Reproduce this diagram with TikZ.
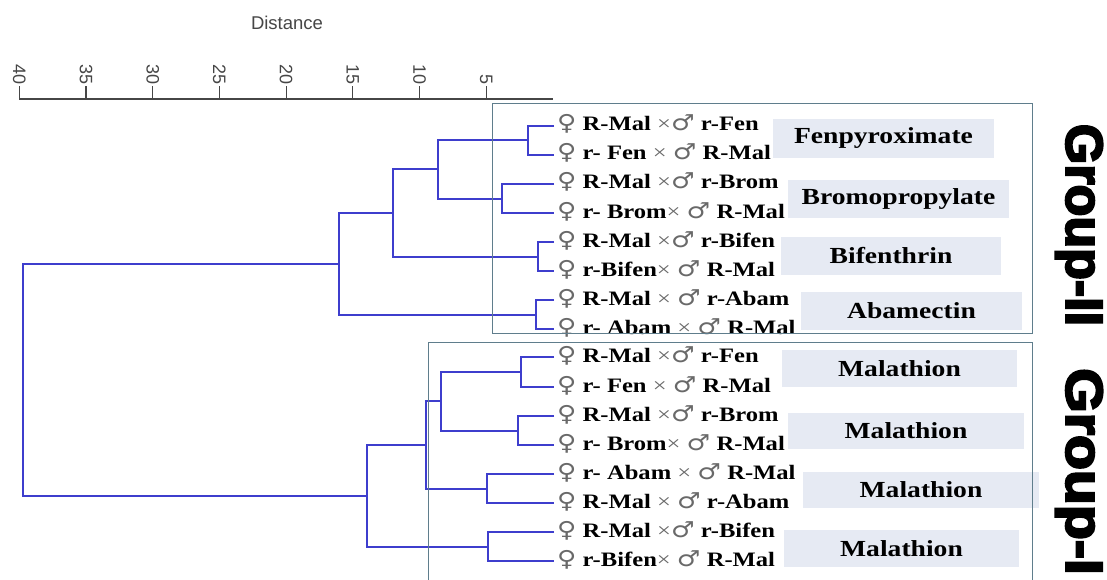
\documentclass[tikz,border=0pt]{standalone}
\usepackage{fontspec}
\usepackage{graphicx}
\usetikzlibrary{calc}
\setmainfont{Liberation Serif}
\newfontfamily\symfont{Liberation Serif}
\newfontfamily\gendfont{DejaVu Sans}
\newfontfamily\axfont{Liberation Sans}
\newfontfamily\grpfont[BoldFeatures={FakeBold=4}]{Liberation Sans}
\definecolor{dendro}{RGB}{62,62,205}
\definecolor{boxline}{RGB}{95,125,140}
\definecolor{labfill}{RGB}{230,234,243}
\definecolor{symgray}{RGB}{105,105,105}
\definecolor{axgray}{RGB}{70,70,70}
\newcommand{\fem}{{\fontsize{22}{24}\gendfont\mdseries\color{symgray}♀}}
\newcommand{\mal}{{\fontsize{22}{24}\gendfont\mdseries\color{symgray}♂}}
\newcommand{\tms}{{\symfont\mdseries\color{symgray}×}}
\newcommand{\sx}[1]{\scalebox{1.2}[1]{#1}}
\begin{document}
\begin{tikzpicture}[x=1pt,y=-1pt,
  branch/.style={draw=dendro,line width=2pt},
  leaflab/.style={anchor=base west,inner sep=0pt,font=\fontsize{20.5}{24}\selectfont\bfseries},
  labbox/.style={fill=labfill,draw=none,inner sep=0pt,font=\fontsize{23}{26}\selectfont\bfseries},
  grpbox/.style={draw=boxline,line width=1pt},
  grptitle/.style={rotate=-90,inner sep=0pt,font=\fontsize{52}{56}\grpfont\bfseries},
  ticklab/.style={rotate=-90,anchor=east,inner sep=0pt,text=axgray,font=\fontsize{18}{20}\axfont},
  axisline/.style={draw=axgray,line width=1.1pt}]
\useasboundingbox (0,0) rectangle (1107,580);

% ---------- label boxes ----------
\node[labbox,minimum width=221,minimum height=39] (fen) at (883.5,138.5) {\sx{Fenpyroximate}};
\node[labbox,minimum width=221,minimum height=38] (brom) at (898.5,199) {\sx{Bromopropylate}};
\node[labbox,minimum width=220,minimum height=38] (bif) at (891,256) {\sx{Bifenthrin}};
\node[labbox,minimum width=221,minimum height=38] (abam) at (911.5,311) {\sx{Abamectin}};
\node[labbox,minimum width=235,minimum height=37] (mal1) at (899.5,368.5) {\sx{Malathion}};
\node[labbox,minimum width=236,minimum height=36] (mal2) at (906,431) {\sx{Malathion}};
\node[labbox,minimum width=236,minimum height=36] (mal3) at (921,490) {\sx{Malathion}};
\node[labbox,minimum width=235,minimum height=37] (mal4) at (901.5,548.5) {\sx{Malathion}};

% ---------- leaves ----------
\foreach \i/\y in {1/126,2/155,3/184,4/213,5/242,6/271,7/300,8/329,
                   9/357,10/387,11/416,12/445,13/474,14/503,15/532,16/561}
  \coordinate (l\i) at (554,\y);

% internal nodes
\coordinate (p1) at (528,140.5);
\coordinate (p2) at (502,198.5);
\coordinate (p3) at (538,256.5);
\coordinate (p4) at (536,314.5);
\coordinate (nA) at (437.5,169.5);
\coordinate (nB) at (393,213);
\coordinate (nC) at (338.6,263.75);
\coordinate (p5) at (521,372);
\coordinate (p6) at (518,430.5);
\coordinate (p7) at (487,488.5);
\coordinate (p8) at (488,546.5);
\coordinate (nD) at (441,401.25);
\coordinate (nE) at (426,444.9);
\coordinate (nF) at (367,495.7);
\coordinate (root) at (23,263.75);

\draw[branch] (l1) -| (p1) |- (l2);
\draw[branch] (l3) -| (p2) |- (l4);
\draw[branch] (l5) -| (p3) |- (l6);
\draw[branch] (l7) -| (p4) |- (l8);
\draw[branch] (p1) -| (nA) |- (p2);
\draw[branch] (nA) -| (nB) |- (p3);
\draw[branch] (nB) -| (nC) |- (p4);
\draw[branch] (l9) -| (p5) |- (l10);
\draw[branch] (l11) -| (p6) |- (l12);
\draw[branch] (l13) -| (p7) |- (l14);
\draw[branch] (l15) -| (p8) |- (l16);
\draw[branch] (p5) -| (nD) |- (p6);
\draw[branch] (nD) -| (nE) |- (p7);
\draw[branch] (nE) -| (nF) |- (p8);
\draw[branch] (nC) -- (root) |- (nF);

% ---------- leaf labels ----------
\node[leaflab] (t1) at (557,131) {\sx{\fem{} R-Mal \tms\mal{} r-Fen}};
\node[leaflab] (t2) at (557,160) {\sx{\fem{} r- Fen \tms{} \mal{} R-Mal}};
\node[leaflab] (t3) at (557,189) {\sx{\fem{} R-Mal \tms\mal{} r-Brom}};
\node[leaflab] (t4) at (557,218) {\sx{\fem{} r- Brom\tms{} \mal{} R-Mal}};
\node[leaflab] (t5) at (557,247) {\sx{\fem{} R-Mal \tms\mal{} r-Bifen}};
\node[leaflab] (t6) at (557,276) {\sx{\fem{} r-Bifen\tms{} \mal{} R-Mal}};
\node[leaflab] (t7) at (557,305) {\sx{\fem{} R-Mal \tms{} \mal{} r-Abam}};
\node[leaflab] (t8) at (557,334) {\sx{\fem{} r- Abam \tms{} \mal{} R-Mal}};
\node[leaflab] (t9) at (557,362) {\sx{\fem{} R-Mal \tms\mal{} r-Fen}};
\node[leaflab] (t10) at (557,392) {\sx{\fem{} r- Fen \tms{} \mal{} R-Mal}};
\node[leaflab] (t11) at (557,421) {\sx{\fem{} R-Mal \tms\mal{} r-Brom}};
\node[leaflab] (t12) at (557,450) {\sx{\fem{} r- Brom\tms{} \mal{} R-Mal}};
\node[leaflab] (t13) at (557,479) {\sx{\fem{} r- Abam \tms{} \mal{} R-Mal}};
\node[leaflab] (t14) at (557,508) {\sx{\fem{} R-Mal \tms{} \mal{} r-Abam}};
\node[leaflab] (t15) at (557,537) {\sx{\fem{} R-Mal \tms\mal{} r-Bifen}};
\node[leaflab] (t16) at (557,566) {\sx{\fem{} r-Bifen\tms{} \mal{} R-Mal}};

% ---------- group boxes ----------
\draw[grpbox] (492,104) rectangle (1032,333);
\draw[grpbox] (1032,600) -- (1032,342) -- (428,342) -- (428,600);

\node[grptitle] (g2) at (1079,225) {Group-II};
\node[grptitle] (g1) at (1079,471.5) {\scalebox{1.1}[1]{Group-I}};

% ---------- axis ----------
\node[text=axgray,font=\fontsize{18.5}{20}\axfont] (dist) at (287,23) {Distance};
\coordinate (ax0) at (19.3,99);
\coordinate (ax1) at (553,99);
\draw[axisline] (ax0) -- (ax1);
\foreach \d in {40,35,...,5} {
  \coordinate (tk\d) at ({19.3+13.34*(40-\d)},99);
  \draw[axisline] (tk\d) -- ++(0,-13);
  \node[ticklab] at ($(tk\d)+(0,-14)$) {\d};
}
\end{tikzpicture}
\end{document}
